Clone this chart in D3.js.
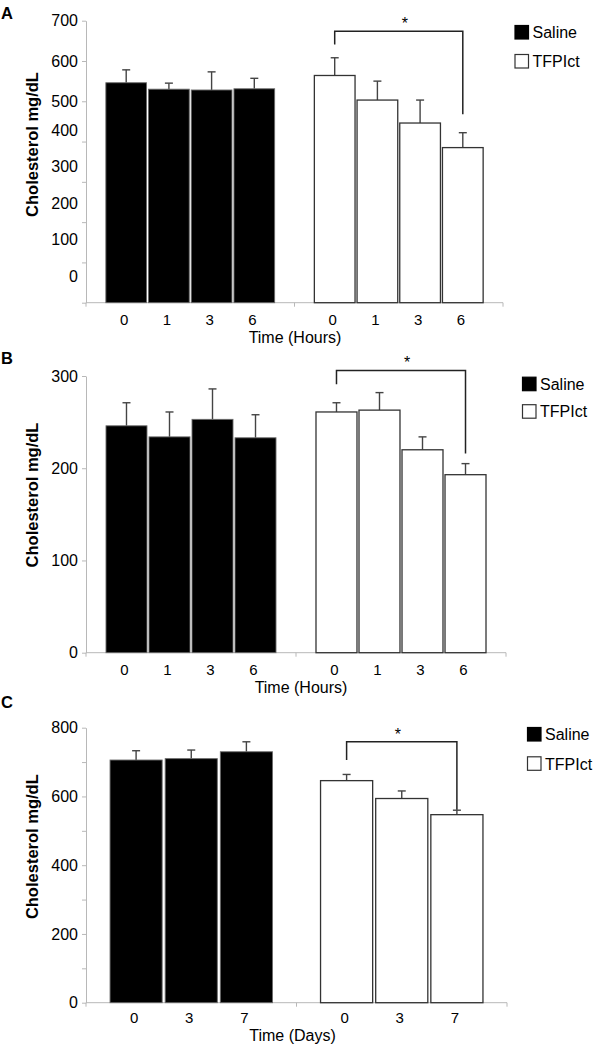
<!DOCTYPE html>
<html><head><meta charset="utf-8">
<script src="https://cdn.jsdelivr.net/npm/d3@7"></script>
<style>
body{margin:0;background:#fff}
svg{display:block}
text{font-family:"Liberation Sans",Arial,Helvetica,sans-serif;fill:#000}
</style>
</head><body>
<svg id="chart" width="596" height="1050"></svg>
<script>
// ---------- data ----------
const groups = ["Saline", "TFPIct"];
const yTitle = "Cholesterol mg/dL";

const timesA = ["0", "1", "3", "6"];
const salineA = [546, 530, 528, 531];
const salineErrA = [32, 15, 45, 26];
const tfpiA = [564, 503, 446, 385];
const tfpiErrA = [44, 47, 57, 37];
const yTicksA = [0, 100, 200, 300, 400, 500, 600, 700];
const yLabelsA = ["0", "100", "200", "300", "400", "500", "600", "700"];
const xTitleA = "Time (Hours)";
const bracketA = [674, 641, 468]; // top, left end, right end (mg/dL)

const timesB = ["0", "1", "3", "6"];
const salineB = [246, 234, 253, 233];
const salineErrB = [25, 27, 33, 25];
const tfpiB = [261, 263, 220, 193];
const tfpiErrB = [10, 19, 14, 12];
const yTicksB = [0, 100, 200, 300];
const yLabelsB = ["0", "100", "200", "300"];
const xTitleB = "Time (Hours)";
const bracketB = [306, 291, 216];

const timesC = ["0", "3", "7"];
const salineC = [706, 710, 730];
const salineErrC = [27, 25, 29];
const tfpiC = [646, 594, 547];
const tfpiErrC = [18, 22, 13];
const yTicksC = [0, 100, 200, 300, 400, 500, 600, 700, 800];
const yLabelsC = ["0", "200", "400", "600", "800"];
const xTitleC = "Time (Days)";
const bracketC = [759, 706, 561];

// ---------- layout ----------
const svg = d3.select("#chart");
const AXIS = "#b8b8b8";

const panels = [
  { letter: "A", letterY: 19, times: timesA, saline: salineA, salineErr: salineErrA,
    tfpi: tfpiA, tfpiErr: tfpiErrA, yTicks: yTicksA, yLabels: yLabelsA, yMax: 700,
    top: 20.7, bottom: 302.7, left: 86, right: 503,
    // label positions in the original figure are compressed below 500
    labelScale: d3.scaleLinear().domain([0, 400, 500, 700]).range([276, 130, 101, 20.7]),
    padIn: 0.047, padOut: 0.465, tickY: 324.5, xTitle: xTitleA, xTitleX: 295, xTitleY: 343,
    yTitleY: 144.5, legX: 514.5, legY: 25, legGap: 29, bracket: bracketA, starDx: 6 },
  { letter: "B", letterY: 363.5, times: timesB, saline: salineB, salineErr: salineErrB,
    tfpi: tfpiB, tfpiErr: tfpiErrB, yTicks: yTicksB, yLabels: yLabelsB, yMax: 300,
    top: 376, bottom: 652.7, left: 86, right: 506, labelScale: null,
    padIn: 0.047, padOut: 0.465, tickY: 674.5, xTitle: xTitleB, xTitleX: 301, xTitleY: 693,
    yTitleY: 495, legX: 522, legY: 376.7, legGap: 27.5, bracket: bracketB, starDx: 6 },
  { letter: "C", letterY: 707.5, times: timesC, saline: salineC, salineErr: salineErrC,
    tfpi: tfpiC, tfpiErr: tfpiErrC, yTicks: yTicksC, yLabels: yLabelsC, yMax: 800,
    top: 727.7, bottom: 1002.7, left: 86, right: 507, labelScale: null,
    padIn: 0.055, padOut: 0.436, tickY: 1022.5, xTitle: xTitleC, xTitleX: 292.5, xTitleY: 1040.5,
    yTitleY: 846.7, legX: 527, legY: 727, legGap: 29.3, bracket: bracketC, starDx: -4 }
];

panels.forEach(p => {
  const g = svg.append("g");
  const y = d3.scaleLinear().domain([0, p.yMax]).range([p.bottom, p.top]);
  const lab = p.labelScale || y;
  const xOuter = d3.scaleBand().domain(groups).range([p.left, p.right]).padding(0);
  const xInner = d3.scaleBand().domain(p.times).range([0, xOuter.bandwidth()])
    .paddingInner(p.padIn).paddingOuter(p.padOut);

  // panel letter
  g.append("text").attr("x", 1).attr("y", p.letterY)
    .attr("font-size", 16.5).attr("font-weight", "bold").text(p.letter);

  // y axis
  const yAxis = d3.axisLeft(y).tickValues(p.yTicks).tickSize(4).tickSizeOuter(0).tickFormat("");
  const ya = g.append("g").attr("transform", `translate(${p.left},0)`).call(yAxis);
  ya.selectAll("path,line").attr("stroke", AXIS).attr("stroke-width", 1);

  g.selectAll(".ylab").data(p.yLabels).join("text")
    .attr("x", 78).attr("y", d => lab(+d)).attr("dy", "0.36em")
    .attr("text-anchor", "end").attr("font-size", 16).text(d => d);

  // y title
  g.append("text")
    .attr("transform", `translate(37.5,${p.yTitleY}) rotate(-90)`)
    .attr("text-anchor", "middle").attr("font-size", 16.5).attr("font-weight", "bold")
    .text(yTitle);

  // x axis line with ticks at group boundaries
  g.append("line").attr("x1", p.left).attr("x2", p.right)
    .attr("y1", p.bottom).attr("y2", p.bottom).attr("stroke", AXIS);
  const bounds = groups.map(d => xOuter(d)).concat([xOuter(groups[1]) + xOuter.bandwidth()]);
  g.selectAll(".xt").data(bounds).join("line")
    .attr("x1", d => d).attr("x2", d => d)
    .attr("y1", p.bottom).attr("y2", p.bottom + 4).attr("stroke", AXIS);

  const series = [
    { grp: "Saline", vals: p.saline, errs: p.salineErr, fill: "#000", stroke: "#6a6a6a", sw: 0.9 },
    { grp: "TFPIct", vals: p.tfpi, errs: p.tfpiErr, fill: "#fff", stroke: "#333", sw: 1.3 }
  ];

  series.forEach(s => {
    const data = s.vals.map((v, i) => ({ t: p.times[i], v, e: s.errs[i] }));
    const gx = xOuter(s.grp);
    const cx = d => gx + xInner(d.t) + xInner.bandwidth() / 2;

    // error bars (upward only)
    g.selectAll(null).data(data).join("line")
      .attr("x1", cx).attr("x2", cx)
      .attr("y1", d => y(d.v)).attr("y2", d => y(d.v + d.e))
      .attr("stroke", "#444").attr("stroke-width", 1.4);
    g.selectAll(null).data(data).join("line")
      .attr("x1", d => cx(d) - 4).attr("x2", d => cx(d) + 4)
      .attr("y1", d => y(d.v + d.e)).attr("y2", d => y(d.v + d.e))
      .attr("stroke", "#444").attr("stroke-width", 1.4);

    // bars
    g.selectAll(null).data(data).join("rect")
      .attr("x", d => gx + xInner(d.t))
      .attr("y", d => y(d.v))
      .attr("width", xInner.bandwidth())
      .attr("height", d => y(0) - y(d.v))
      .attr("fill", s.fill).attr("stroke", s.stroke).attr("stroke-width", s.sw);

    // category tick labels
    g.selectAll(null).data(data).join("text")
      .attr("x", d => cx(d) - 2).attr("y", p.tickY)
      .attr("text-anchor", "middle").attr("font-size", 15).text(d => d.t);
  });

  // x title
  g.append("text").attr("x", p.xTitleX).attr("y", p.xTitleY)
    .attr("text-anchor", "middle").attr("font-size", 16).text(p.xTitle);

  // significance bracket over TFPIct first vs last
  const tg = xOuter("TFPIct");
  const xl = tg + xInner(p.times[0]) + xInner.bandwidth() / 2;
  const xr = tg + xInner(p.times[p.times.length - 1]) + xInner.bandwidth() / 2;
  const [bt, bl, br] = p.bracket;
  g.append("path")
    .attr("d", `M${xl},${y(bl)}V${y(bt)}H${xr}V${y(br)}`)
    .attr("fill", "none").attr("stroke", "#222").attr("stroke-width", 1.5);
  g.append("text").attr("x", (xl + xr) / 2 + p.starDx).attr("y", y(bt) - 2)
    .attr("text-anchor", "middle").attr("font-size", 16).text("*");

  // legend
  const leg = g.append("g").attr("transform", `translate(${p.legX},${p.legY})`);
  series.forEach((s, i) => {
    const row = leg.append("g").attr("transform", `translate(0,${i * p.legGap})`);
    row.append("rect").attr("x", 0.5).attr("y", 0.5).attr("width", 13.5).attr("height", 13.5)
      .attr("fill", s.fill).attr("stroke", i === 0 ? "#000" : "#333").attr("stroke-width", 1.2);
    row.append("text").attr("x", 18).attr("y", 7.5).attr("dy", "0.36em")
      .attr("font-size", 16).text(s.grp);
  });
});
</script>
</body></html>
